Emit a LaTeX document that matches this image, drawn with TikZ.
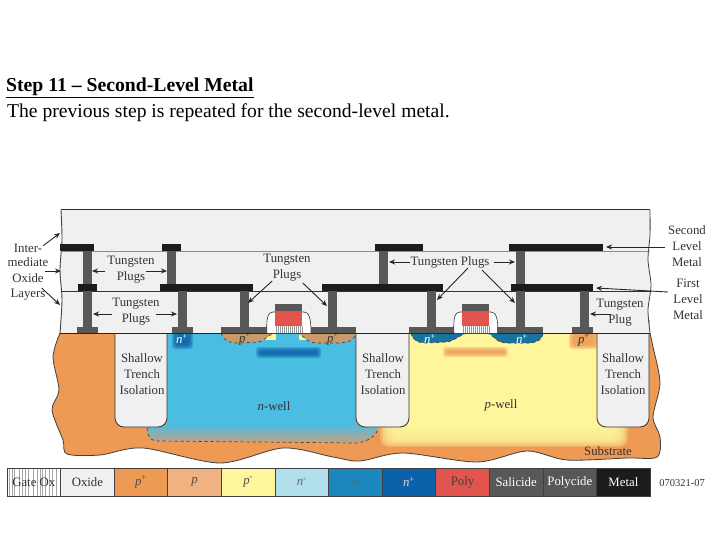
\documentclass[tikz,border=0pt]{standalone}
\usepackage{fontspec}
\setmainfont{Liberation Serif}
\usetikzlibrary{positioning,arrows.meta,calc}
\definecolor{oxidegray}{RGB}{240,240,240}
\definecolor{pplusorange}{RGB}{238,154,85}
\definecolor{ptan}{RGB}{240,178,128}
\definecolor{pminusyellow}{RGB}{255,245,155}
\definecolor{nminuslight}{RGB}{178,223,236}
\definecolor{nwellblue}{RGB}{74,189,227}
\definecolor{nblue}{RGB}{26,136,191}
\definecolor{nplusblue}{RGB}{12,98,168}
\definecolor{polyred}{RGB}{226,85,79}
\definecolor{salicidegray}{RGB}{88,88,88}
\definecolor{metalblack}{RGB}{28,28,28}
\definecolor{drainbrown}{RGB}{200,153,107}
\tikzset{
  lbl/.style={font=\fontsize{12.8}{16}\selectfont,align=center,inner sep=0pt,text=black!80},
  arrowline/.style={draw=black!85,line width=0.9pt,-{Stealth[length=6pt,width=5pt]}},
  metalbar/.style={fill=metalblack},
  plugbar/.style={fill=salicidegray},
  padbar/.style={fill=salicidegray},
  stibox/.style={fill=oxidegray,draw=black!80,line width=0.8pt,rounded corners=9pt},
  sdline/.style={draw=black!75,line width=0.7pt,dashed},
  legcell/.style={minimum width=53.6pt,minimum height=28pt,inner sep=0pt,outer sep=0pt,
    draw=black!75,line width=0.8pt,font=\fontsize{12.8}{16}\selectfont},
}
% soft edged patch, built from stacked translucent rectangles
\newcommand{\softbar}[5]{%
  \foreach \k in {0,1,2,3,4,5} {
    \fill[#1,opacity=0.3,rounded corners=3pt] ({#2-3+\k},{#3-3+\k}) rectangle ({#4+3-\k},{#5+3-\k});
  }
}
\begin{document}
\begin{tikzpicture}[x=1pt,y=-1pt]
\useasboundingbox (0,0) rectangle (720,540);
\fill[white] (0,0) rectangle (720,540);

% Heading
\node[anchor=base west,inner sep=0pt,font=\fontsize{19.7}{22}\selectfont\bfseries] (title) at (6,92) {\underline{Step 11 – Second-Level Metal}};
\node[anchor=base west,inner sep=0pt,font=\fontsize{19.6}{22}\selectfont] (subtitle) at (7,118) {The previous step is repeated for the second-level metal.};

% Substrate
\fill[pplusorange] plot[smooth] coordinates {(60,333) (53,357) (59,390) (52,410) (63,440) (67,454) (100,455) (143,448) (220,463) (283,448) (333,457) (360,461) (403,453) (477,462) (527,451) (567,460) (627,458) (657,457) (660,437) (653,417) (660,383) (653,347) (650,333)} -- cycle;
\draw[black!75,line width=0.8pt] plot[smooth] coordinates {(60,333) (53,357) (59,390) (52,410) (63,440) (67,454) (100,455) (143,448) (220,463) (283,448) (333,457) (360,461) (403,453) (477,462) (527,451) (567,460) (627,458) (657,457) (660,437) (653,417) (660,383) (653,347) (650,333)};

% n-well with its faded lower band
\fill[nwellblue] (167,333) rectangle (356,426);
\shade[top color=nwellblue,bottom color=ptan!65!gray] (147,424) -- (147,431) .. controls (148,439) and (152,441) .. (158,441) -- (357,443) .. controls (370,441) and (377,435) .. (378,424) -- cycle;
\draw[sdline] (147,428) .. controls (148,439) and (152,441) .. (158,441) -- (357,443) .. controls (370,441) and (377,435) .. (378,428);

% p-well, soft towards the substrate
\foreach \k in {0,1,...,12} {
  \fill[pminusyellow,opacity=0.25,rounded corners=8pt] ({380+1.5*\k},333) rectangle ({628-1.5*\k},{447-1.2*\k});
}
\fill[pminusyellow] (409,333) rectangle (597,428);

% Buried bars and contact regions
\softbar{nplusblue}{259}{350}{318}{355}
\softbar{pplusorange}{446}{350}{505}{354}
\softbar{nplusblue}{175}{333}{190}{346}
\softbar{pplusorange}{572}{333}{595}{346}

% Source and drain regions
\fill[pminusyellow] (262,333) rectangle (276,340);
\fill[pminusyellow] (299,333) rectangle (315,340);
\fill[drainbrown] (221,333) .. controls (224,341) and (228,343) .. (240,343) -- (258,342) .. controls (266,341) and (266,335) .. (276,333) -- cycle;
\fill[drainbrown] (297,333) .. controls (306,336) and (304,342) .. (316,343) -- (340,343) .. controls (350,342) and (354,340) .. (356,333) -- cycle;
\draw[sdline] (221,333) .. controls (224,341) and (228,343) .. (240,343) -- (258,342) .. controls (266,341) and (266,335) .. (276,333);
\draw[sdline] (297,333) .. controls (306,336) and (304,342) .. (316,343) -- (340,343) .. controls (350,342) and (354,340) .. (356,333);
\fill[nblue!85!black] (411,333) .. controls (413,341) and (418,343) .. (428,343) -- (446,342) .. controls (456,341) and (458,335) .. (468,333) -- cycle;
\fill[nblue!85!black] (487,333) .. controls (496,336) and (494,342) .. (506,343) -- (530,343) .. controls (538,342) and (542,340) .. (543,333) -- cycle;
\draw[sdline] (411,333) .. controls (413,341) and (418,343) .. (428,343) -- (446,342) .. controls (456,341) and (458,335) .. (468,333);
\draw[sdline] (487,333) .. controls (496,336) and (494,342) .. (506,343) -- (530,343) .. controls (538,342) and (542,340) .. (543,333);

% Trench isolation
\path[stibox] (115,320) -- (115,427) -- (167,427) -- (167,320);
\path[stibox] (356,320) -- (356,427) -- (409,427) -- (409,320);
\path[stibox] (597,320) -- (597,427) -- (649,427) -- (649,320);

% Oxide layers
\fill[oxidegray] plot[smooth] coordinates {(61,210) (62,240) (60,270) (62,300) (60,333)} -- (650,333) -- plot[smooth] coordinates {(650,333) (648,310) (651,285) (648,260) (650,235) (650,210)} -- cycle;
\draw[black!75,line width=0.9pt] plot[smooth] coordinates {(61,210) (62,240) (60,270) (62,300) (60,333)};
\draw[black!75,line width=0.8pt] plot[smooth] coordinates {(650,333) (648,310) (651,285) (648,260) (650,235) (650,210)};
\draw[black!80,line width=1pt] (61,210) -- (650,210);
\draw[black!45,line width=0.8pt] (61,251) -- (650,251);
\draw[black!80,line width=0.8pt] (61,291) -- (650,291);
\draw[black!85,line width=0.8pt] (60,333) -- (650,333);

% Gate stacks
\foreach \gx in {275,462} {
  \filldraw[fill=white,draw=black!80,line width=0.6pt] ({\gx-8},333) .. controls ({\gx-9},318) and ({\gx-7},312) .. ({\gx-2},312) -- ({\gx+29},312) .. controls ({\gx+34},312) and ({\gx+36},318) .. ({\gx+36},333);
  \fill[salicidegray] (\gx,304) rectangle ({\gx+27},311);
  \fill[polyred] (\gx,311) rectangle ({\gx+27},326);
  \foreach \s in {1,3,...,27} {
    \draw[black!40,line width=0.5pt] ({\gx+\s},326) -- ({\gx+\s},333);
  }
}

% Contact pads on silicon
\foreach \xa/\xb in {77/98,172/193,221/267,311/356,409/454,497/543,572/593} {
  \fill[padbar] (\xa,327) rectangle (\xb,333);
}

% Lower plugs
\foreach \xa in {83,178,240,328,427,516,580} {
  \fill[plugbar] (\xa,291) rectangle ({\xa+9},328);
}
% Upper plugs
\foreach \xa in {83,167,379,516} {
  \fill[plugbar] (\xa,251) rectangle ({\xa+9},285);
}
% First level metal
\foreach \xa/\xb in {78/97,160/253,322/443,511/593} {
  \fill[metalbar] (\xa,284) rectangle (\xb,291);
}
% Second level metal
\foreach \xa/\xb in {60/94,162/181,375/423,509/603} {
  \fill[metalbar] (\xa,244) rectangle (\xb,251);
}

% Arrow tips
\coordinate (tipI) at (60,233);
\coordinate (tipM) at (61,271);
\coordinate (tipL) at (60,305);
\coordinate (tipA) at (92,271);
\coordinate (tipB) at (167,271);
\coordinate (tipC) at (93,314);
\coordinate (tipD) at (177,314);
\coordinate (tipE) at (248,303);
\coordinate (tipF) at (327,306);
\coordinate (tipG) at (389,262);
\coordinate (tipH) at (515,262);
\coordinate (tipJ) at (437,300);
\coordinate (tipK) at (515,303);
\coordinate (tipS) at (606,247);
\coordinate (tipT) at (596,288);
\coordinate (tipP) at (590,314);

% Oxide labels
\node[lbl,anchor=south] (inter) at (28,253) {Inter-};
\node[lbl] (mediate) at (28,262) {mediate};
\node[lbl] (oxide) at (28,278) {Oxide};
\node[lbl] (layers) at (28,295) {Layers};
\draw[arrowline] ([xshift=1pt,yshift=3pt]inter.east) -- (tipI);
\draw[arrowline] ([xshift=-3pt,yshift=-9pt]mediate.east) -- (tipM);
\draw[arrowline] ([xshift=-4pt,yshift=7pt]layers.east) -- (tipL);

% Plug labels
\node[lbl] (plugsA) at (131,270) {Tungsten\\Plugs};
\draw[arrowline] ([xshift=-2pt,yshift=-1pt]plugsA.west) -- (tipA);
\draw[arrowline] ([xshift=-9pt,yshift=-1pt]plugsA.east) -- (tipB);
\node[lbl] (plugsB) at (136,312) {Tungsten\\Plugs};
\draw[arrowline] ([yshift=-2pt]plugsB.west) -- (tipC);
\draw[arrowline] ([xshift=-4pt,yshift=-2pt]plugsB.east) -- (tipD);
\node[lbl] (plugsC) at (287,268) {Tungsten\\Plugs};
\draw[arrowline] ([xshift=9pt,yshift=-13pt]plugsC.west) -- (tipE);
\draw[arrowline] ([xshift=-8pt,yshift=-15pt]plugsC.east) -- (tipF);
\node[lbl] (plugsD) at (450,262) {Tungsten Plugs};
\draw[arrowline] (plugsD.west) -- (tipG);
\draw[arrowline] ([xshift=4pt]plugsD.east) -- (tipH);
\draw[arrowline] ([xshift=18pt]plugsD.south) -- (tipJ);
\draw[arrowline] ([xshift=32pt,yshift=-2pt]plugsD.south) -- (tipK);
\node[lbl] (plugE) at (620,313) {Tungsten\\Plug};
\draw[arrowline] ([xshift=15pt,yshift=-1pt]plugE.west) -- (tipP);

% Metal labels
\node[lbl] (second) at (687,246) {Second\\Level\\Metal};
\draw[arrowline] ([xshift=-3pt,yshift=-1pt]second.west) -- (tipS);
\node[lbl] (first) at (688,299) {First\\Level\\Metal};
\draw[arrowline] ([xshift=-5pt,yshift=7pt]first.west) -- (tipT);

% Silicon labels
\node[lbl] (stiA) at (142,374) {Shallow\\Trench\\Isolation};
\node[lbl] (stiB) at (383,374) {Shallow\\Trench\\Isolation};
\node[lbl] (stiC) at (623,374) {Shallow\\Trench\\Isolation};
\node[lbl,text=white] (nplusA) at (182,339) {\textit{n}\textsuperscript{+}};
\node[lbl] (pplusA) at (245,339) {\textit{p}\textsuperscript{+}};
\node[lbl] (pplusB) at (333,339) {\textit{p}\textsuperscript{+}};
\node[lbl,text=white] (nplusB) at (430,339) {\textit{n}\textsuperscript{+}};
\node[lbl,text=white] (nplusC) at (522,339) {\textit{n}\textsuperscript{+}};
\node[lbl] (pplusC) at (584,340) {\textit{p}\textsuperscript{+}};
\node[lbl] (nwell) at (274,406) {\textit{n}-well};
\node[lbl] (pwell) at (501,405) {\textit{p}-well};
\node[lbl] (substrate) at (608,451) {Substrate};

% Legend
\fill[white] (7,468) rectangle (60.6,496);
\foreach \s in {9,12,14,19,22,25,28,33,37,40,42,45,49,52,56} {
  \draw[black!35,line width=0.6pt] (\s,468) -- (\s,496);
}
\node[legcell,text=black!80] (legGate) at (33.8,482) {Gate Ox};
\node[legcell,fill=oxidegray,right=0pt of legGate,text=black!80] (legOxide) {Oxide};
\node[legcell,fill=pplusorange,right=0pt of legOxide,text=black!70] (legPplus) {\textit{p}\textsuperscript{+}};
\node[legcell,fill=ptan,right=0pt of legPplus,text=black!70] (legP) {\textit{p}};
\node[legcell,fill=pminusyellow,right=0pt of legP,text=black!70] (legPminus) {\textit{p}\textsuperscript{-}};
\node[legcell,fill=nminuslight,right=0pt of legPminus,text=black!60] (legNminus) {\textit{n}\textsuperscript{-}};
\node[legcell,fill=nblue,right=0pt of legNminus,text=black!60] (legN) {\textit{n}};
\node[legcell,fill=nplusblue,right=0pt of legN,text=white!85!black] (legNplus) {\textit{n}\textsuperscript{+}};
\node[legcell,fill=polyred,right=0pt of legNplus,text=black!75] (legPoly) {Poly};
\node[legcell,fill=salicidegray,right=0pt of legPoly,text=white] (legSalicide) {Salicide};
\node[legcell,fill=salicidegray,right=0pt of legSalicide,text=white] (legPolycide) {Polycide};
\node[legcell,fill=metalblack,right=0pt of legPolycide,text=white] (legMetal) {Metal};
\node[lbl,font=\fontsize{10.5}{12}\selectfont] (figcode) at (682,483) {070321-07};
\end{tikzpicture}
\end{document}
